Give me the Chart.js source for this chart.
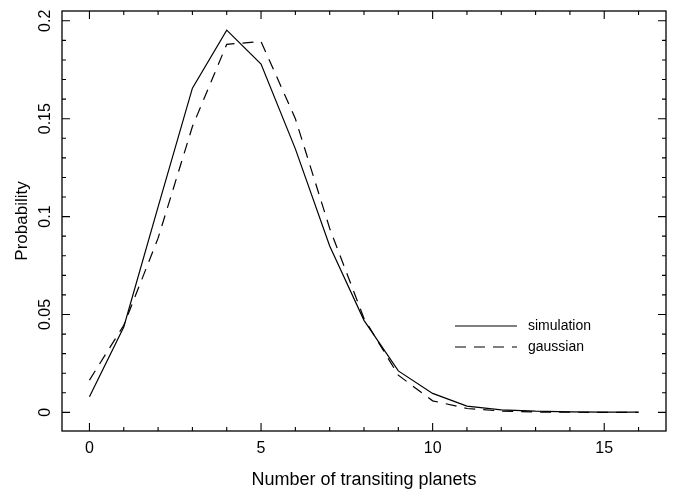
<!DOCTYPE html>
<html>
<head>
<meta charset="utf-8">
<script src="https://cdn.jsdelivr.net/npm/chart.js@4"></script>
<style>
  html, body { margin: 0; padding: 0; background: #fff; }
  #wrap { width: 680px; height: 489px; }
</style>
</head>
<body>
<div id="wrap"><canvas id="myChart"></canvas></div>
<script>
var nPlanets = [0, 1, 2, 3, 4, 5, 6, 7, 8, 9, 10, 11, 12, 13, 14, 15, 16];
var simulation = [0.008, 0.0436, 0.105, 0.1656, 0.1952, 0.1779, 0.1346, 0.085, 0.047, 0.0212,
  0.0097, 0.0032, 0.0013, 0.0006, 0.0003, 0.0001, 0.0001];
var gaussian = [0.0165, 0.0445, 0.089, 0.146, 0.188, 0.1894, 0.150, 0.094, 0.048, 0.019,
  0.0059, 0.002, 0.0007, 0.0002, 0.0001, 0.0, 0.0];

var xTickLabels = ["0", "5", "10", "15"];
var yTickLabels = ["0", "0.05", "0.1", "0.15", "0.2"];
var xMinorTicks = nPlanets;
var yMinorTicks = [];
for (var k = 0; k <= 20; k++) yMinorTicks.push(k / 100);

var FONT = "'Liberation Sans', Arial, sans-serif";

function pts(ys) {
  return nPlanets.map(function (x, i) { return { x: x, y: ys[i] }; });
}

function majorLabel(list) {
  return function (v) {
    var s = String(Math.round(v * 1000) / 1000);
    return list.indexOf(s) >= 0 ? s : "";
  };
}

// box frame with inward ticks on all four sides
var frame = {
  id: "frame",
  afterDatasetsDraw: function (chart) {
    var ctx = chart.ctx, a = chart.chartArea;
    var xs = chart.scales.x, ys = chart.scales.y;
    ctx.save();
    ctx.strokeStyle = "#000";
    ctx.lineWidth = 1.3;
    ctx.strokeRect(a.left, a.top, a.right - a.left, a.bottom - a.top);
    ctx.lineWidth = 1.1;
    ctx.beginPath();
    xs.ticks.forEach(function (t) {
      var px = xs.getPixelForValue(t.value);
      var len = t.label ? 8 : 4;
      ctx.moveTo(px, a.bottom); ctx.lineTo(px, a.bottom - len);
      ctx.moveTo(px, a.top); ctx.lineTo(px, a.top + len);
    });
    ys.ticks.forEach(function (t) {
      var py = ys.getPixelForValue(t.value);
      var len = t.label ? 8 : 4;
      ctx.moveTo(a.left, py); ctx.lineTo(a.left + len, py);
      ctx.moveTo(a.right, py); ctx.lineTo(a.right - len, py);
    });
    ctx.stroke();

    // legend inside the plot
    var rows = [326, 347];
    ctx.font = "14px " + FONT;
    ctx.textBaseline = "middle";
    ctx.fillStyle = "#000";
    chart.data.datasets.forEach(function (ds, i) {
      ctx.lineWidth = ds.borderWidth;
      ctx.setLineDash(ds.borderDash || []);
      ctx.beginPath();
      ctx.moveTo(455, rows[i]);
      ctx.lineTo(517, rows[i]);
      ctx.stroke();
      ctx.setLineDash([]);
      ctx.fillText(ds.label, 528, rows[i]);
    });
    ctx.restore();
  }
};

new Chart("myChart", {
  type: "line",
  data: {
    datasets: [
      {
        label: "simulation",
        data: pts(simulation),
        borderColor: "#000",
        borderWidth: 1.2,
        pointRadius: 0,
        tension: 0,
        fill: false
      },
      {
        label: "gaussian",
        data: pts(gaussian),
        borderColor: "#000",
        borderWidth: 1.2,
        borderDash: [11, 8],
        pointRadius: 0,
        tension: 0,
        fill: false
      }
    ]
  },
  options: {
    responsive: true,
    maintainAspectRatio: false,
    animation: false,
    layout: { padding: { left: 0, top: 11, right: 14, bottom: 0 } },
    plugins: {
      legend: { display: false },
      tooltip: { enabled: false }
    },
    scales: {
      x: {
        type: "linear",
        min: -0.8,
        max: 16.8,
        afterBuildTicks: function (s) {
          s.ticks = xMinorTicks.map(function (v) { return { value: v }; });
        },
        afterFit: function (s) { s.height = 58; },
        grid: { display: false, drawTicks: false },
        border: { display: false },
        ticks: {
          autoSkip: false,
          maxRotation: 0,
          padding: 8,
          color: "#000",
          font: { family: FONT, size: 16 },
          callback: majorLabel(xTickLabels)
        },
        title: {
          display: true,
          text: "Number of transiting planets",
          color: "#000",
          font: { family: FONT, size: 18, lineHeight: 1.05 },
          padding: { top: 0, bottom: 0 }
        }
      },
      y: {
        type: "linear",
        min: -0.0095,
        max: 0.205,
        afterBuildTicks: function (s) {
          s.ticks = yMinorTicks.map(function (v) { return { value: v }; });
        },
        afterFit: function (s) { s.width = 62; },
        grid: { display: false, drawTicks: false },
        border: { display: false },
        ticks: {
          autoSkip: false,
          minRotation: 90,
          maxRotation: 90,
          crossAlign: "center",
          padding: 1,
          color: "#000",
          font: { family: FONT, size: 16 },
          callback: majorLabel(yTickLabels)
        },
        title: {
          display: true,
          text: "Probability",
          color: "#000",
          font: { family: FONT, size: 17 },
          padding: { top: 12, bottom: 0 }
        }
      }
    }
  },
  plugins: [frame]
});
</script>
</body>
</html>
